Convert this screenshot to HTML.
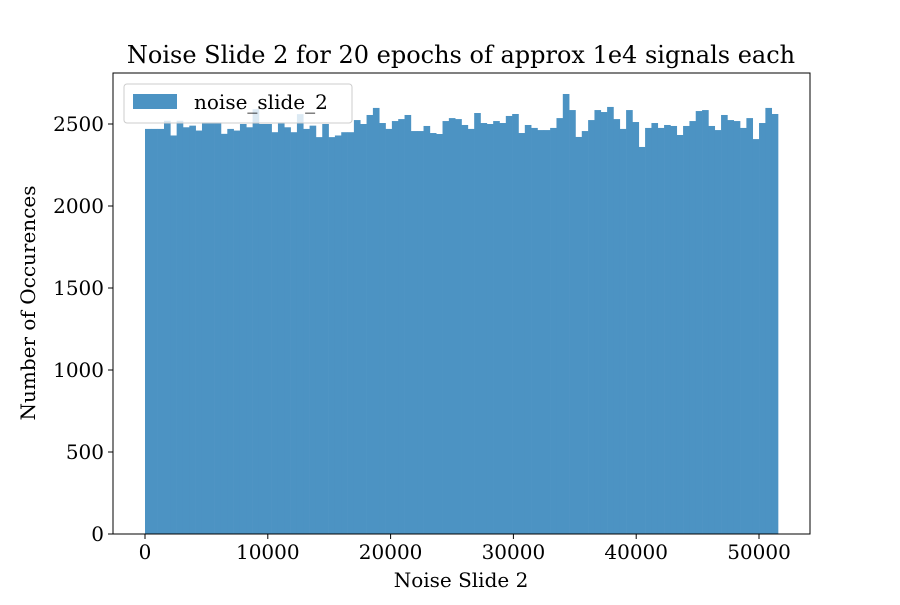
<!DOCTYPE html>
<html><head><meta charset="utf-8"><style>
body{margin:0;background:#fff}
svg text{font-family:"DejaVu Serif","Liberation Serif",serif;fill:#000}
</style></head><body>
<svg id="chart" width="900" height="600" xmlns="http://www.w3.org/2000/svg">
<rect width="900" height="600" fill="#fff"/>
<text x="461" y="63" font-size="24" text-anchor="middle">Noise Slide 2 for 20 epochs of approx 1e4 signals each</text>
<g id="bars"></g>
<rect x="113" y="73" width="697" height="461" fill="none" stroke="#000" stroke-width="1"/>
<g id="xticks"></g>
<g id="yticks"></g>
<text x="461" y="587" font-size="20" text-anchor="middle">Noise Slide 2</text>
<text transform="translate(35,303) rotate(-90)" font-size="20" text-anchor="middle">Number of Occurences</text>
<g>
<rect x="124" y="84" width="228" height="39" rx="3" fill="#fff" fill-opacity="0.8" stroke="#ccc"/>
<rect x="133" y="94" width="44" height="15" fill="#4c93c3"/>
<text x="194" y="109" font-size="20">noise_slide_2</text>
</g>
</svg>
<script>
const counts=[2470,2470,2470,2520,2430,2520,2480,2490,2460,2510,2510,2510,2440,2470,2460,2500,2480,2590,2500,2500,2450,2510,2480,2450,2560,2470,2490,2420,2500,2420,2430,2450,2450,
2524,2500,2555,2598,2506,2470,
2518,2530,2555,2457,2457,2488,2445,2439,2518,2536,2530,2494,2470,2567,2506,2500,2518,2506,2549,2561,2445,2494,2476,2463,2463,2476,2536,2683,2585,
2421,2457,2524,2585,2573,2604,2530,2470,2585,2512,2360,2476,2506,2476,2494,2488,2433,2488,2518,2579,2585,2488,2463,2555,2524,2518,2476,2536,2408,2506,2598,2561];
const binStart=0;
const binWidth=515.5;
const xTicks=[0,10000,20000,30000,40000,50000];
const yTicks=[0,500,1000,1500,2000,2500];
const NS="http://www.w3.org/2000/svg";
function xs(v){return 145+v*(614/50000);}
function ys(v){return 534-v*(410/2500);}
const bars=document.getElementById('bars');
counts.forEach((c,i)=>{
  const r=document.createElementNS(NS,'rect');
  const x0=xs(binStart+i*binWidth),x1=xs(binStart+(i+1)*binWidth);
  r.setAttribute('x',x0);r.setAttribute('width',x1-x0+0.3);
  r.setAttribute('y',ys(c));r.setAttribute('height',ys(0)-ys(c));
  r.setAttribute('fill','#4c93c3');
  
  
  bars.appendChild(r);
});
const gx=document.getElementById('xticks');
xTicks.forEach(t=>{
  const l=document.createElementNS(NS,'line');
  l.setAttribute('x1',xs(t));l.setAttribute('x2',xs(t));l.setAttribute('y1',534);l.setAttribute('y2',539);l.setAttribute('stroke','#000');
  
  
  gx.appendChild(l);
  const tx=document.createElementNS(NS,'text');
  tx.setAttribute('x',xs(t));tx.setAttribute('y',559);tx.setAttribute('font-size','20');tx.setAttribute('text-anchor','middle');
  tx.textContent=t;
  
  
  gx.appendChild(tx);
});
const gy=document.getElementById('yticks');
yTicks.forEach(t=>{
  const l=document.createElementNS(NS,'line');
  l.setAttribute('x1',108);l.setAttribute('x2',113);l.setAttribute('y1',ys(t));l.setAttribute('y2',ys(t));l.setAttribute('stroke','#000');
  
  
  gy.appendChild(l);
  const tx=document.createElementNS(NS,'text');
  tx.setAttribute('x',104);tx.setAttribute('y',ys(t)+7);tx.setAttribute('font-size','20');tx.setAttribute('text-anchor','end');
  tx.textContent=t;
  
  
  gy.appendChild(tx);
});
</script>
</body></html>
